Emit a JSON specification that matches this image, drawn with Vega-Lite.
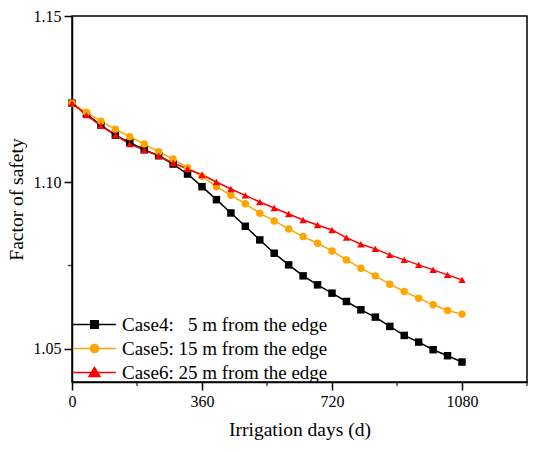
{
  "$schema": "https://vega.github.io/schema/vega-lite/v6.json",
  "width": 455,
  "height": 366,
  "autosize": {"type": "none"},
  "padding": {"left": 72, "top": 16, "right": 10, "bottom": 70},
  "config": {
    "view": {"stroke": "black", "strokeWidth": 1.5},
    "font": "Liberation Serif",
    "axis": {
      "labelFont": "Liberation Serif", "titleFont": "Liberation Serif",
      "labelFontSize": 16, "titleFontSize": 19.5, "labelColor": "black", "titleColor": "black",
      "titleFontWeight": "normal", "domainColor": "black", "tickColor": "black",
      "domainWidth": 1.5, "tickWidth": 1.5, "grid": false
    },
    "legend": {"labelFont": "Liberation Serif", "labelFontSize": 19, "labelColor": "black", "labelLimit": 0}
  },
  "datasets": {
    "d": [
      {"day": 0, "fs": 1.1238, "case": "Case4:\u00a0\u00a0\u00a05 m from the edge"},
      {"day": 40, "fs": 1.1205, "case": "Case4:\u00a0\u00a0\u00a05 m from the edge"},
      {"day": 80, "fs": 1.1172, "case": "Case4:\u00a0\u00a0\u00a05 m from the edge"},
      {"day": 120, "fs": 1.1142, "case": "Case4:\u00a0\u00a0\u00a05 m from the edge"},
      {"day": 160, "fs": 1.1120, "case": "Case4:\u00a0\u00a0\u00a05 m from the edge"},
      {"day": 200, "fs": 1.1098, "case": "Case4:\u00a0\u00a0\u00a05 m from the edge"},
      {"day": 240, "fs": 1.1080, "case": "Case4:\u00a0\u00a0\u00a05 m from the edge"},
      {"day": 280, "fs": 1.1055, "case": "Case4:\u00a0\u00a0\u00a05 m from the edge"},
      {"day": 320, "fs": 1.1025, "case": "Case4:\u00a0\u00a0\u00a05 m from the edge"},
      {"day": 360, "fs": 1.0987, "case": "Case4:\u00a0\u00a0\u00a05 m from the edge"},
      {"day": 400, "fs": 1.0948, "case": "Case4:\u00a0\u00a0\u00a05 m from the edge"},
      {"day": 440, "fs": 1.0908, "case": "Case4:\u00a0\u00a0\u00a05 m from the edge"},
      {"day": 480, "fs": 1.0868, "case": "Case4:\u00a0\u00a0\u00a05 m from the edge"},
      {"day": 520, "fs": 1.0827, "case": "Case4:\u00a0\u00a0\u00a05 m from the edge"},
      {"day": 560, "fs": 1.0787, "case": "Case4:\u00a0\u00a0\u00a05 m from the edge"},
      {"day": 600, "fs": 1.0752, "case": "Case4:\u00a0\u00a0\u00a05 m from the edge"},
      {"day": 640, "fs": 1.0719, "case": "Case4:\u00a0\u00a0\u00a05 m from the edge"},
      {"day": 680, "fs": 1.0692, "case": "Case4:\u00a0\u00a0\u00a05 m from the edge"},
      {"day": 720, "fs": 1.0667, "case": "Case4:\u00a0\u00a0\u00a05 m from the edge"},
      {"day": 760, "fs": 1.0642, "case": "Case4:\u00a0\u00a0\u00a05 m from the edge"},
      {"day": 800, "fs": 1.0617, "case": "Case4:\u00a0\u00a0\u00a05 m from the edge"},
      {"day": 840, "fs": 1.0595, "case": "Case4:\u00a0\u00a0\u00a05 m from the edge"},
      {"day": 880, "fs": 1.0567, "case": "Case4:\u00a0\u00a0\u00a05 m from the edge"},
      {"day": 920, "fs": 1.0540, "case": "Case4:\u00a0\u00a0\u00a05 m from the edge"},
      {"day": 960, "fs": 1.0520, "case": "Case4:\u00a0\u00a0\u00a05 m from the edge"},
      {"day": 1000, "fs": 1.0497, "case": "Case4:\u00a0\u00a0\u00a05 m from the edge"},
      {"day": 1040, "fs": 1.0479, "case": "Case4:\u00a0\u00a0\u00a05 m from the edge"},
      {"day": 1080, "fs": 1.0460, "case": "Case4:\u00a0\u00a0\u00a05 m from the edge"},
      {"day": 0, "fs": 1.1238, "case": "Case5: 15 m from the edge"},
      {"day": 40, "fs": 1.1210, "case": "Case5: 15 m from the edge"},
      {"day": 80, "fs": 1.1184, "case": "Case5: 15 m from the edge"},
      {"day": 120, "fs": 1.1160, "case": "Case5: 15 m from the edge"},
      {"day": 160, "fs": 1.1137, "case": "Case5: 15 m from the edge"},
      {"day": 200, "fs": 1.1115, "case": "Case5: 15 m from the edge"},
      {"day": 240, "fs": 1.1092, "case": "Case5: 15 m from the edge"},
      {"day": 280, "fs": 1.1070, "case": "Case5: 15 m from the edge"},
      {"day": 320, "fs": 1.1044, "case": "Case5: 15 m from the edge"},
      {"day": 360, "fs": 1.1018, "case": "Case5: 15 m from the edge"},
      {"day": 400, "fs": 1.0987, "case": "Case5: 15 m from the edge"},
      {"day": 440, "fs": 1.0961, "case": "Case5: 15 m from the edge"},
      {"day": 480, "fs": 1.0936, "case": "Case5: 15 m from the edge"},
      {"day": 520, "fs": 1.0907, "case": "Case5: 15 m from the edge"},
      {"day": 560, "fs": 1.0884, "case": "Case5: 15 m from the edge"},
      {"day": 600, "fs": 1.0860, "case": "Case5: 15 m from the edge"},
      {"day": 640, "fs": 1.0837, "case": "Case5: 15 m from the edge"},
      {"day": 680, "fs": 1.0817, "case": "Case5: 15 m from the edge"},
      {"day": 720, "fs": 1.0794, "case": "Case5: 15 m from the edge"},
      {"day": 760, "fs": 1.0767, "case": "Case5: 15 m from the edge"},
      {"day": 800, "fs": 1.0742, "case": "Case5: 15 m from the edge"},
      {"day": 840, "fs": 1.0719, "case": "Case5: 15 m from the edge"},
      {"day": 880, "fs": 1.0694, "case": "Case5: 15 m from the edge"},
      {"day": 920, "fs": 1.0672, "case": "Case5: 15 m from the edge"},
      {"day": 960, "fs": 1.0652, "case": "Case5: 15 m from the edge"},
      {"day": 1000, "fs": 1.0632, "case": "Case5: 15 m from the edge"},
      {"day": 1040, "fs": 1.0615, "case": "Case5: 15 m from the edge"},
      {"day": 1080, "fs": 1.0604, "case": "Case5: 15 m from the edge"},
      {"day": 0, "fs": 1.1238, "case": "Case6: 25 m from the edge"},
      {"day": 40, "fs": 1.1202, "case": "Case6: 25 m from the edge"},
      {"day": 80, "fs": 1.1170, "case": "Case6: 25 m from the edge"},
      {"day": 120, "fs": 1.1142, "case": "Case6: 25 m from the edge"},
      {"day": 160, "fs": 1.1115, "case": "Case6: 25 m from the edge"},
      {"day": 200, "fs": 1.1097, "case": "Case6: 25 m from the edge"},
      {"day": 240, "fs": 1.1080, "case": "Case6: 25 m from the edge"},
      {"day": 280, "fs": 1.1058, "case": "Case6: 25 m from the edge"},
      {"day": 320, "fs": 1.1040, "case": "Case6: 25 m from the edge"},
      {"day": 360, "fs": 1.1023, "case": "Case6: 25 m from the edge"},
      {"day": 400, "fs": 1.1001, "case": "Case6: 25 m from the edge"},
      {"day": 440, "fs": 1.0980, "case": "Case6: 25 m from the edge"},
      {"day": 480, "fs": 1.0961, "case": "Case6: 25 m from the edge"},
      {"day": 520, "fs": 1.0941, "case": "Case6: 25 m from the edge"},
      {"day": 560, "fs": 1.0923, "case": "Case6: 25 m from the edge"},
      {"day": 600, "fs": 1.0905, "case": "Case6: 25 m from the edge"},
      {"day": 640, "fs": 1.0887, "case": "Case6: 25 m from the edge"},
      {"day": 680, "fs": 1.0872, "case": "Case6: 25 m from the edge"},
      {"day": 720, "fs": 1.0857, "case": "Case6: 25 m from the edge"},
      {"day": 760, "fs": 1.0834, "case": "Case6: 25 m from the edge"},
      {"day": 800, "fs": 1.0814, "case": "Case6: 25 m from the edge"},
      {"day": 840, "fs": 1.0800, "case": "Case6: 25 m from the edge"},
      {"day": 880, "fs": 1.0782, "case": "Case6: 25 m from the edge"},
      {"day": 920, "fs": 1.0767, "case": "Case6: 25 m from the edge"},
      {"day": 960, "fs": 1.0752, "case": "Case6: 25 m from the edge"},
      {"day": 1000, "fs": 1.0737, "case": "Case6: 25 m from the edge"},
      {"day": 1040, "fs": 1.0722, "case": "Case6: 25 m from the edge"},
      {"day": 1080, "fs": 1.0707, "case": "Case6: 25 m from the edge"}
    ],
    "minor": [{"day": 180}, {"day": 540}, {"day": 900}, {"day": 1260}],
    "minory": [{"fs": 1.075}]
  },
  "layer": [
    {
      "data": {"name": "d"},
      "mark": {"type": "line", "strokeWidth": 1.5},
      "encoding": {
        "x": {"field": "day", "type": "quantitative",
              "scale": {"domain": [0, 1260], "nice": false, "zero": false},
              "axis": {"values": [0, 360, 720, 1080], "format": "d", "title": "Irrigation days (d)", "tickSize": 8, "labelPadding": 3, "titlePadding": 11, "labelFlush": false}},
        "y": {"field": "fs", "type": "quantitative",
              "scale": {"domain": [1.04, 1.15], "nice": false, "zero": false},
              "axis": {"values": [1.05, 1.10, 1.15], "format": ".2f", "title": "Factor of safety", "tickSize": 8, "labelPadding": 3, "titlePadding": 7, "labelFlush": false}},
        "color": {"field": "case", "type": "nominal",
          "scale": {"range": ["#000000", "#FFA500", "#FF0000"]},
          "legend": {
            "title": null, "orient": "none", "legendX": 13, "legendY": 299,
            "padding": 0, "rowPadding": 4, "labelOffset": 18, "symbolSize": 56,
            "symbolStrokeWidth": 1.5,
            "encode": {"symbols": {"update": {
              "shape": {"signal": "substring(datum.value,4,5)==='4' ? 'M-5.7,0H5.7M-1,-1H1V1H-1Z' : (substring(datum.value,4,5)==='5' ? 'M-5.7,0H5.7M1.1,0A1.1,1.1,0,1,1,-1.1,0A1.1,1.1,0,1,1,1.1,0Z' : 'M-5.7,0H5.7M0,-1.35L1.45,1.05L-1.45,1.05Z')"},
              "stroke": {"signal": "substring(datum.value,4,5)==='4' ? '#000000' : (substring(datum.value,4,5)==='5' ? '#FFA500' : '#FF0000')"},
              "fill": {"signal": "substring(datum.value,4,5)==='4' ? '#000000' : (substring(datum.value,4,5)==='5' ? '#FFA500' : '#FF0000')"},
              "strokeWidth": {"value": 1.5},
              "size": {"value": 56},
              "opacity": {"value": 1}
            }}}
          }}
      }
    },
    {
      "data": {"name": "d"},
      "mark": {"type": "point", "filled": true, "opacity": 1},
      "encoding": {
        "x": {"field": "day", "type": "quantitative"},
        "y": {"field": "fs", "type": "quantitative"},
        "color": {"field": "case", "type": "nominal"},
        "shape": {"field": "case", "type": "nominal",
                  "scale": {"range": ["square", "circle", "triangle-up"]},
                  "legend": null},
        "size": {"field": "case", "type": "nominal",
                  "scale": {"range": [56, 55, 100]},
                  "legend": null}
      }
    },
    {
      "data": {"name": "minor"},
      "mark": {"type": "tick", "orient": "vertical", "color": "black", "thickness": 1.5, "size": 4, "yOffset": 2},
      "encoding": {
        "x": {"field": "day", "type": "quantitative"},
        "y": {"datum": 1.04, "type": "quantitative"}
      }
    },
    {
      "data": {"name": "minory"},
      "mark": {"type": "tick", "orient": "horizontal", "color": "black", "thickness": 1.5, "size": 4, "xOffset": -2},
      "encoding": {
        "y": {"field": "fs", "type": "quantitative"},
        "x": {"datum": 0, "type": "quantitative"}
      }
    }
  ]
}
